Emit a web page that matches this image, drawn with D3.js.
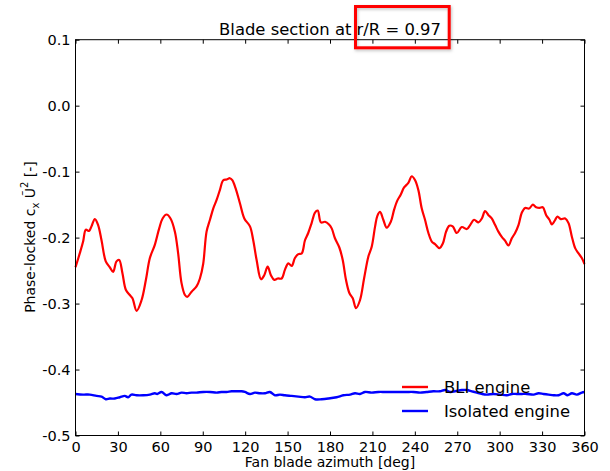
<!DOCTYPE html>
<html><head><meta charset="utf-8">
<script src="https://cdn.jsdelivr.net/npm/d3@7"></script>
<style>body{margin:0;background:#fff}svg{display:block}text{font-family:"DejaVu Sans",sans-serif;fill:#000}</style>
</head><body><svg id="c" width="610" height="471"></svg>
<script>
const bliDeg = [0,3,5.4,7.3,9.6,11.3,13.7,16,18.4,21.4,24.3,26.6,29,30.9,33.2,35.6,38.4,40.3,43.2,46.7,49.8,52.6,56.1,59.2,61.6,64.4,67.2,70.3,72.6,75,77.4,79,82.1,85.6,88,90.3,92.7,95.1,97.4,99.8,102.1,104.5,106.9,109.2,110.9,113.2,116.3,119.4,123.4,125.7,128.1,131.2,133.5,135.9,138.2,140.6,143,145.8,148.1,150.5,152.9,155.2,157.6,160,162.3,164.6,167,169.4,171.3,173.6,176.5,179.3,181.2,183.5,186.6,189,191.3,193.7,196.1,198.4,201.2,204.1,207.1,209.5,211.9,213.5,215.4,217.7,220.1,223,225.3,227.6,230,232.4,235.4,237.8,240.2,242.5,244.9,247.2,249.6,252,254.3,257.4,259.8,262.1,264.4,266.8,269.7,273.2,276.8,279.1,281.9,285,287.4,289.7,292.1,294.4,296.8,299.1,301.5,303.9,306.2,308.6,310.9,313.3,315.7,318,320.8,323.5,325.8,328.2,330.5,332.9,335.2,336.9,339.3,340.9,343.3,346.4,348.7,351.1,353.4,355.8,358.1,360];
const bliVal = [-0.245,-0.224,-0.206,-0.188,-0.19,-0.183,-0.172,-0.181,-0.204,-0.236,-0.245,-0.252,-0.236,-0.234,-0.254,-0.279,-0.287,-0.292,-0.311,-0.295,-0.264,-0.231,-0.211,-0.186,-0.171,-0.165,-0.171,-0.191,-0.224,-0.269,-0.287,-0.29,-0.282,-0.274,-0.262,-0.24,-0.191,-0.173,-0.156,-0.143,-0.128,-0.113,-0.112,-0.11,-0.113,-0.125,-0.148,-0.171,-0.183,-0.204,-0.234,-0.263,-0.257,-0.244,-0.257,-0.264,-0.262,-0.262,-0.249,-0.239,-0.243,-0.231,-0.225,-0.224,-0.204,-0.193,-0.178,-0.162,-0.159,-0.177,-0.176,-0.18,-0.186,-0.201,-0.215,-0.234,-0.264,-0.284,-0.292,-0.307,-0.295,-0.262,-0.229,-0.214,-0.183,-0.167,-0.161,-0.173,-0.185,-0.176,-0.158,-0.144,-0.135,-0.124,-0.117,-0.107,-0.113,-0.128,-0.156,-0.173,-0.193,-0.206,-0.21,-0.216,-0.209,-0.191,-0.182,-0.183,-0.193,-0.184,-0.187,-0.181,-0.173,-0.177,-0.171,-0.16,-0.166,-0.171,-0.181,-0.191,-0.199,-0.205,-0.212,-0.201,-0.193,-0.181,-0.162,-0.155,-0.156,-0.15,-0.154,-0.155,-0.154,-0.166,-0.173,-0.18,-0.173,-0.168,-0.172,-0.171,-0.178,-0.199,-0.216,-0.224,-0.231,-0.24];
const isoDeg = [0,5.4,10.1,14.9,18.4,21.4,24.3,27.8,31.4,34.9,37.2,39.6,43.2,47.9,52.6,56.1,57.8,60.9,64.4,68,71.5,75,78.6,82.1,85.6,90.3,95.1,99.8,103.3,106.9,110.4,114,117.5,119.8,123.4,126.9,130.5,134,137.5,141.1,144.6,148.1,152.9,157.6,162.3,165.8,169.4,174.1,178.8,184.7,189.4,194.2,197.7,201.2,204.8,209.5,214.2,218.9,224.8,229.5,234.3,239,243.7,248.4,253.1,257.8,261.4,264.9,268.5,273.2,276.8,280.3,283.8,287.4,290.9,295.6,300.4,305.1,308.6,312.1,315.7,319.2,324,327.5,331,334.6,338.1,341.7,345.2,348,351.1,354.6,358.1,360];
const isoVal = [-0.437,-0.438,-0.438,-0.44,-0.441,-0.445,-0.444,-0.444,-0.442,-0.44,-0.442,-0.438,-0.439,-0.439,-0.438,-0.436,-0.437,-0.434,-0.439,-0.436,-0.437,-0.435,-0.436,-0.435,-0.435,-0.434,-0.434,-0.435,-0.434,-0.434,-0.433,-0.433,-0.433,-0.434,-0.437,-0.435,-0.436,-0.436,-0.434,-0.439,-0.438,-0.439,-0.44,-0.441,-0.442,-0.441,-0.445,-0.445,-0.444,-0.442,-0.439,-0.438,-0.436,-0.437,-0.434,-0.435,-0.434,-0.434,-0.434,-0.434,-0.434,-0.434,-0.435,-0.434,-0.433,-0.433,-0.431,-0.434,-0.433,-0.431,-0.431,-0.433,-0.435,-0.437,-0.438,-0.437,-0.438,-0.439,-0.437,-0.437,-0.437,-0.437,-0.438,-0.436,-0.437,-0.438,-0.439,-0.439,-0.436,-0.439,-0.436,-0.438,-0.435,-0.434];
const xTicks = [0,30,60,90,120,150,180,210,240,270,300,330,360];
const yTicks = [-0.5,-0.4,-0.3,-0.2,-0.1,0.0,0.1];
const seriesNames = ["BLI engine","Isolated engine"];
const seriesColors = ["#ff0000","#0000ff"];

(function(){
const svg = d3.select("#c");
const L=75.5, R=584.5, T=39.7, B=435.5;
const x = d3.scaleLinear().domain([0,360]).range([L,R]);
const y = d3.scaleLinear().domain([-0.5,0.1]).range([B,T]);

const line = d3.line().x(d=>x(d[0])).y(d=>y(d[1])).curve(d3.curveCatmullRom.alpha(0.5));
const g = svg.append("g");
g.append("path").datum(bliDeg.map((d,i)=>[d,bliVal[i]])).attr("d",line)
  .attr("fill","none").attr("stroke",seriesColors[0]).attr("stroke-width",2.2).attr("stroke-linejoin","round");
g.append("path").datum(isoDeg.map((d,i)=>[d,isoVal[i]])).attr("d",line)
  .attr("fill","none").attr("stroke",seriesColors[1]).attr("stroke-width",2.4).attr("stroke-linejoin","round");

const ax = svg.append("g");
const yFmt = d => d3.format(".1f")(d).replace("\u2212","-");
const axB = d3.axisBottom(x).tickValues(xTicks).tickSize(-4).tickPadding(6).tickFormat(d3.format("d"));
const axT = d3.axisTop(x).tickValues(xTicks).tickSize(-4).tickFormat("");
const axL = d3.axisLeft(y).tickValues(yTicks).tickSize(-4).tickPadding(5).tickFormat(yFmt);
const axR = d3.axisRight(y).tickValues(yTicks).tickSize(-4).tickFormat("");
function style(sel){sel.select(".domain").remove();sel.selectAll("line").attr("stroke","#000");sel.selectAll("text").style("font-family","DejaVu Sans").style("font-size","14.5px").attr("fill","#000");}
ax.append("g").attr("transform",`translate(0,${B})`).call(axB).call(style);
ax.append("g").attr("transform",`translate(0,${T})`).call(axT).call(style);
ax.append("g").attr("transform",`translate(${L},0)`).call(axL).call(style);
ax.append("g").attr("transform",`translate(${R},0)`).call(axR).call(style);
ax.append("rect").attr("x",L).attr("y",T).attr("width",R-L).attr("height",B-T).attr("fill","none").attr("stroke","#000").attr("stroke-width",1);

svg.append("text").attr("x",(L+R)/2).attr("y",35).attr("text-anchor","middle").style("font-size","16.4px").text("Blade section at r/R = 0.97");
const defs = svg.append("defs");
const f = defs.append("filter").attr("id","sh").attr("x","-20%").attr("y","-20%").attr("width","140%").attr("height","140%");
f.append("feDropShadow").attr("dx",1).attr("dy",1.5).attr("stdDeviation",1.5).attr("flood-color","#000").attr("flood-opacity",0.25);
svg.append("rect").attr("x",355.5).attr("y",6.5).attr("width",93.7).attr("height",41.3).attr("fill","none").attr("stroke","#ff0000").attr("stroke-width",3).attr("filter","url(#sh)");

svg.append("text").attr("x",(L+R)/2).attr("y",467).attr("text-anchor","middle").style("font-size","14px").text("Fan blade azimuth [deg]");
const yl = svg.append("text").attr("transform",`translate(35,237) rotate(-90)`).attr("text-anchor","middle").style("font-size","14px");
yl.append("tspan").text("Phase-locked c");
yl.append("tspan").attr("dy",4).style("font-size","10px").text("x");
yl.append("tspan").attr("dy",-4).text(" Ũ");
yl.append("tspan").attr("dy",-7).style("font-size","10px").text("2");
yl.append("tspan").attr("dy",7).text("  [-]");

const lg = svg.append("g");
seriesNames.forEach((n,i)=>{
  const yy = 387 + i*24;
  lg.append("line").attr("x1",402).attr("x2",428).attr("y1",yy).attr("y2",yy).attr("stroke",seriesColors[i]).attr("stroke-width",2.4);
  lg.append("text").attr("x",444).attr("y",yy+6).style("font-size","16.4px").text(n);
});
})();
</script></body></html>
